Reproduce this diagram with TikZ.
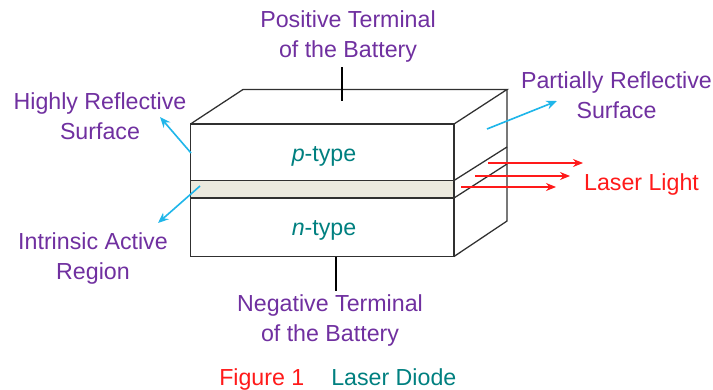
\documentclass[tikz,border=0pt]{standalone}
\usepackage{fontspec}
\setmainfont{Liberation Sans}
\usetikzlibrary{arrows.meta}
\definecolor{lblpurple}{HTML}{7030A0}
\definecolor{lblteal}{HTML}{008080}
\definecolor{lblblue}{HTML}{1FB6EA}
\definecolor{lblred}{HTML}{FF1A1A}
\definecolor{layerfill}{HTML}{ECEADF}
\definecolor{boxline}{HTML}{303030}
\tikzset{
  x=0.75pt,y=-0.75pt,
  boxedge/.style={draw=boxline,line width=0.95pt},
  term/.style={draw=black,line width=0.8pt},
  bluearrow/.style={draw=lblblue,line width=1.2pt,-{Stealth[length=8pt,width=6.5pt]}},
  redarrow/.style={draw=lblred,line width=0.9pt,-{Stealth[length=7.5pt,width=6pt]}},
  lbl/.style={inner sep=0pt,align=center,font=\fontsize{17.4pt}{22.5pt}\selectfont},
  purplelbl/.style={lbl,text=lblpurple},
  teallbl/.style={lbl,text=lblteal},
  redlbl/.style={lbl,text=lblred}
}
\begin{document}
\begin{tikzpicture}
\useasboundingbox (0,0) rectangle (713,389);
\fill[white] (0,0) rectangle (713,389);
% corner coordinates
\coordinate (ftl) at (190.5,124);
\coordinate (ftr) at (454,124);
\coordinate (fbl) at (190.5,256.5);
\coordinate (fbr) at (454,256.5);
\coordinate (btl) at (243,89.5);
\coordinate (btr) at (507,89.5);
\coordinate (bbr) at (507,221);
\coordinate (lal) at (190.5,180.5);
\coordinate (lar) at (454,180.5);
\coordinate (lbl) at (190.5,198);
\coordinate (lbr) at (454,198);
\coordinate (lab) at (507,147);
\coordinate (lbb) at (507,164);
% active layer
\fill[layerfill] (lal) rectangle (lbr);
% box
\draw[boxedge] (ftl) rectangle (fbr);
\draw[boxedge] (lal) -- (lar);
\draw[boxedge] (lbl) -- (lbr);
\draw[boxedge] (ftl) -- (btl) -- (btr) -- (ftr);
\draw[boxedge] (btr) -- (bbr) -- (fbr);
\draw[boxedge] (lar) -- (lab);
\draw[boxedge] (lbr) -- (lbb);
% terminals
\coordinate (tt) at (342,67);
\coordinate (tb) at (342,101);
\coordinate (bt) at (336,256.5);
\coordinate (bb) at (336,290.5);
\draw[term] (tt) -- (tb);
\draw[term] (bt) -- (bb);
% labels
\node[purplelbl] (pos) at (348,37) {Positive Terminal\\of the Battery};
\node[purplelbl] (neg) at (330,320) {Negative Terminal\\of the Battery};
\node[purplelbl] (high) at (100,116) {Highly Reflective\\Surface};
\node[purplelbl] (intr) at (93,258) {Intrinsic Active\\Region};
\node[purplelbl] (part) at (616.5,95) {Partially Reflective\\Surface};
\node[teallbl,anchor=base] (ptype) at (324,161) {\textit{p}-type};
\node[teallbl,anchor=base] (ntype) at (324,235) {\textit{n}-type};
\node[redlbl,anchor=base] (laser) at (641.5,190) {Laser Light};
\node[redlbl,anchor=base west] (figa) at (219,385) {Figure 1};
\node[teallbl,anchor=base west] (figb) at (331,385) {Laser Diode};
% pointers
\coordinate (a1s) at (191,153);
\coordinate (a1e) at (160,117);
\coordinate (a2s) at (200,186);
\coordinate (a2e) at (158,223);
\coordinate (a3s) at (487,129);
\coordinate (a3e) at (557,101);
\draw[bluearrow] (a1s) -- (a1e);
\draw[bluearrow] (a2s) -- (a2e);
\draw[bluearrow] (a3s) -- (a3e);
\coordinate (r1s) at (488,163);
\coordinate (r1e) at (583,163);
\coordinate (r2s) at (475,176);
\coordinate (r2e) at (570,176);
\coordinate (r3s) at (461,187);
\coordinate (r3e) at (556,187);
\draw[redarrow] (r1s) -- (r1e);
\draw[redarrow] (r2s) -- (r2e);
\draw[redarrow] (r3s) -- (r3e);
\end{tikzpicture}
\end{document}
